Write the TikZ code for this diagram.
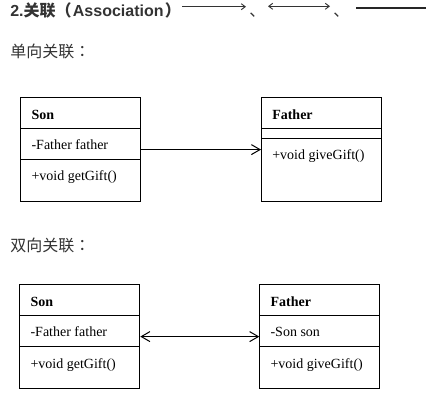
\documentclass[tikz,border=0pt]{standalone}
\usepackage{fontspec}
\setmainfont{Liberation Serif}
\newfontfamily\cjk{Noto Sans CJK SC}
\newfontfamily\cjktc{Noto Sans CJK TC}
\newfontfamily\arial{Liberation Sans}
\usetikzlibrary{arrows.meta,calc}
\definecolor{headc}{HTML}{333333}
\tikzset{
  umltip/.tip={Straight Barb[length=6.5pt,width=7.5pt,line width=0.75pt]},
  smtip/.tip={Straight Barb[length=3pt,width=4.5pt,line width=0.7pt]}}
\begin{document}
\begin{tikzpicture}[x=0.75pt,y=-0.75pt,
  cls/.style={draw,line width=0.75pt,minimum width=90pt,minimum height=77.7pt,inner sep=0pt,anchor=north west},
  txt/.style={inner sep=0pt,anchor=base west,font=\fontsize{10.5pt}{12pt}\selectfont},
  hd/.style={inner sep=0pt,anchor=base west,text=headc},
  div/.style={line width=0.75pt},
  assoc/.style={line width=0.75pt},
  hline/.style={line width=0.8pt,draw=headc}]
\useasboundingbox (0,0) rectangle (433,401);

% heading
\node[hd] (title) at (10,16.5) {\fontsize{12pt}{14pt}\selectfont\bfseries\arial 2.\cjk 关联\cjktc （\arial\kern1pt Association\kern1pt\cjktc ）};
\coordinate (a1s) at (182,6.7);
\coordinate (a1e) at (246,6.7);
\draw[hline,-{smtip}] (a1s) -- (a1e);
\node[hd] (sep1) at (249,16.5) {\fontsize{12pt}{14pt}\selectfont\cjk 、};
\coordinate (a2s) at (268,6.3);
\coordinate (a2e) at (330,6.3);
\draw[hline,{smtip}-{smtip}] (a2s) -- (a2e);
\node[hd] (sep2) at (333,16.5) {\fontsize{12pt}{14pt}\selectfont\cjk 、};
\coordinate (a3s) at (356,7.8);
\coordinate (a3e) at (426,7.8);
\draw[line width=1.1pt,draw=black!85] (a3s) -- (a3e);

\node[hd] (uni) at (10,57.3) {\fontsize{12pt}{14pt}\selectfont\cjk 单向关联\cjktc ：};
\node[hd] (bi) at (10,251.3) {\fontsize{12pt}{14pt}\selectfont\cjk 双向关联\cjktc ：};

% --- unidirectional
\node[cls] (son1) at (20.3,97.3) {};
\draw[div] ($(son1.north west)+(0,31)$) -- ($(son1.north east)+(0,31)$);
\draw[div] ($(son1.north west)+(0,62)$) -- ($(son1.north east)+(0,62)$);
\node[txt] (son1n) at ($(son1.north west)+(11,21.7)$) {\bfseries Son};
\node[txt] (son1a) at ($(son1.north west)+(11,52.2)$) {-Father father};
\node[txt] (son1m) at ($(son1.north west)+(11,83.5)$) {+void getGift()};

\node[cls] (fat1) at (261,97.3) {};
\draw[div] ($(fat1.north west)+(0,31)$) -- ($(fat1.north east)+(0,31)$);
\draw[div] ($(fat1.north west)+(0,41)$) -- ($(fat1.north east)+(0,41)$);
\node[txt] (fat1n) at ($(fat1.north west)+(11,21.7)$) {\bfseries Father};
\node[txt] (fat1m) at ($(fat1.north west)+(11,62.5)$) {+void giveGift()};

\draw[assoc,-{umltip}] (son1.east) -- (fat1.west);

% --- bidirectional
\node[cls] (son2) at (19.3,284.3) {};
\draw[div] ($(son2.north west)+(0,31)$) -- ($(son2.north east)+(0,31)$);
\draw[div] ($(son2.north west)+(0,62.4)$) -- ($(son2.north east)+(0,62.4)$);
\node[txt] (son2n) at ($(son2.north west)+(11,21.7)$) {\bfseries Son};
\node[txt] (son2a) at ($(son2.north west)+(11,52.2)$) {-Father father};
\node[txt] (son2m) at ($(son2.north west)+(11,83.7)$) {+void getGift()};

\node[cls] (fat2) at (259.3,284.3) {};
\draw[div] ($(fat2.north west)+(0,31)$) -- ($(fat2.north east)+(0,31)$);
\draw[div] ($(fat2.north west)+(0,62.4)$) -- ($(fat2.north east)+(0,62.4)$);
\node[txt] (fat2n) at ($(fat2.north west)+(11,21.7)$) {\bfseries Father};
\node[txt] (fat2a) at ($(fat2.north west)+(11,52.2)$) {-Son son};
\node[txt] (fat2m) at ($(fat2.north west)+(11,83.7)$) {+void giveGift()};

\draw[assoc,{umltip}-{umltip}] (son2.east) -- (fat2.west);
\end{tikzpicture}
\end{document}
